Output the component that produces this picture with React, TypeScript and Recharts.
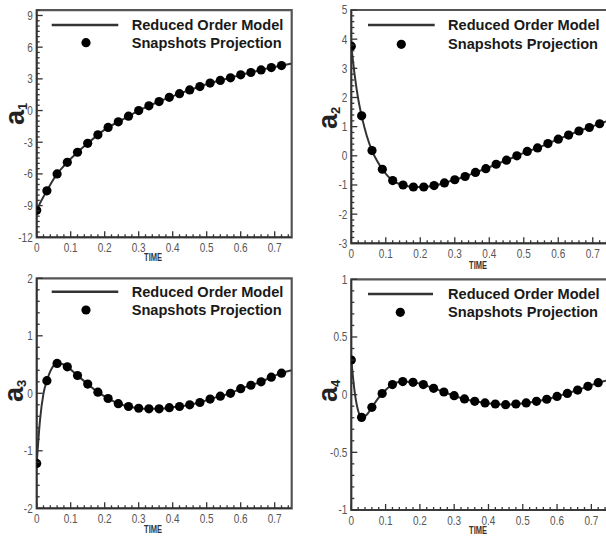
import React from 'react';
import { ComposedChart, Line, Scatter, XAxis, YAxis, ReferenceArea } from 'recharts';

// ---- data ----
const snapTime = [0, 0.03, 0.06, 0.09, 0.12, 0.15, 0.18, 0.21, 0.24, 0.27, 0.3, 0.33, 0.36, 0.39, 0.42, 0.45, 0.48, 0.51, 0.54, 0.57, 0.6, 0.63, 0.66, 0.69, 0.72];
const romTime = [0, 0.01, 0.02, 0.03, 0.045, 0.06, 0.075, 0.09, 0.12, 0.15, 0.18, 0.21, 0.24, 0.27, 0.3, 0.33, 0.36, 0.39, 0.42, 0.45, 0.48, 0.51, 0.54, 0.57, 0.6, 0.63, 0.66, 0.69, 0.72, 0.75];

const a1Snap = [-9.45, -7.6, -6.0, -4.9, -3.95, -3.1, -2.3, -1.6, -1.07, -0.53, 0.0, 0.45, 0.85, 1.25, 1.6, 1.95, 2.27, 2.6, 2.85, 3.1, 3.38, 3.6, 3.85, 4.07, 4.26];
const a2Snap = [3.76, 1.37, 0.18, -0.46, -0.85, -1.0, -1.07, -1.07, -1.02, -0.93, -0.82, -0.71, -0.57, -0.44, -0.29, -0.15, 0.0, 0.15, 0.27, 0.42, 0.57, 0.71, 0.85, 0.97, 1.1];
const a3Snap = [-1.22, 0.22, 0.52, 0.46, 0.31, 0.16, 0.02, -0.09, -0.18, -0.23, -0.26, -0.27, -0.27, -0.25, -0.23, -0.2, -0.16, -0.1, -0.05, 0.0, 0.08, 0.14, 0.2, 0.28, 0.35];
const a4Snap = [0.3, -0.197, -0.11, 0.01, 0.087, 0.113, 0.107, 0.087, 0.055, 0.023, -0.009, -0.037, -0.058, -0.072, -0.081, -0.087, -0.081, -0.072, -0.058, -0.04, -0.015, 0.011, 0.04, 0.072, 0.104];

const a1Rom = [-9.45, -8.75, -8.15, -7.6, -6.75, -6.0, -5.42, -4.9, -3.95, -3.1, -2.3, -1.6, -1.07, -0.53, 0.0, 0.45, 0.85, 1.25, 1.6, 1.95, 2.27, 2.6, 2.85, 3.1, 3.38, 3.6, 3.85, 4.07, 4.26, 4.45];
const a2Rom = [3.76, 2.75, 1.95, 1.37, 0.68, 0.18, -0.18, -0.46, -0.85, -1.0, -1.07, -1.07, -1.02, -0.93, -0.82, -0.71, -0.57, -0.44, -0.29, -0.15, 0.0, 0.15, 0.27, 0.42, 0.57, 0.71, 0.85, 0.97, 1.1, 1.22];
const a3Rom = [-1.22, -0.45, 0.0, 0.22, 0.44, 0.52, 0.51, 0.46, 0.31, 0.16, 0.02, -0.09, -0.18, -0.23, -0.26, -0.27, -0.27, -0.25, -0.23, -0.2, -0.16, -0.1, -0.05, 0.0, 0.08, 0.14, 0.2, 0.28, 0.35, 0.4];
const a4Rom = [0.3, 0.02, -0.14, -0.197, -0.175, -0.11, -0.045, 0.01, 0.087, 0.113, 0.107, 0.087, 0.055, 0.023, -0.009, -0.037, -0.058, -0.072, -0.081, -0.087, -0.081, -0.072, -0.058, -0.04, -0.015, 0.011, 0.04, 0.072, 0.104, 0.125];

const xMajorTicks = [0, 0.1, 0.2, 0.3, 0.4, 0.5, 0.6, 0.7];
const a1Ticks = [-12, -9, -6, -3, 0, 3, 6, 9];
const a2Ticks = [-3, -2, -1, 0, 1, 2, 3, 4, 5];
const a3Ticks = [-2, -1, 0, 1, 2];
const a4Ticks = [-1, -0.5, 0, 0.5, 1];

const legendLabels = ['Reduced Order Model', 'Snapshots Projection'];
const xTitle = 'TIME';

// ---- helpers ----
const X_MAX = 0.75;
const X_MINOR = 0.02;

function withMinor(majors: number[], step: number, lo: number, hi: number) {
  const out: number[] = [];
  const n = Math.round((hi - lo) / step);
  for (let i = 0; i <= n; i++) out.push(Math.round((lo + i * step) * 1e6) / 1e6);
  majors.forEach((m) => { if (!out.some((o) => Math.abs(o - m) < 1e-9)) out.push(m); });
  return out.sort((a, b) => a - b);
}
const isMajor = (majors: number[], v: number) => majors.some((m) => Math.abs(m - v) < 1e-6);

const TICK_FONT = 'Liberation Sans, Arial, Helvetica, sans-serif';

const makeYTick = (majors: number[]) => (props: any) => {
  const { x, y, payload } = props;
  const v = payload.value;
  const maj = isMajor(majors, v);
  return (
    <g>
      <line x1={x} x2={x + (maj ? 6 : 3)} y1={y} y2={y} stroke="#333" strokeWidth={1.3} />
      {maj && (
        <text
          transform={`translate(${x - 4},${y}) scale(0.8,1)`}
          textAnchor="end"
          dominantBaseline="central"
          fontSize={12.5}
          fill="#555"
          fontFamily={TICK_FONT}
        >
          {String(v)}
        </text>
      )}
    </g>
  );
};

const makeXTick = (majors: number[]) => (props: any) => {
  const { x, y, payload } = props;
  const v = payload.value;
  const maj = isMajor(majors, v);
  return (
    <g>
      <line x1={x} x2={x} y1={y} y2={y - (maj ? 6 : 3)} stroke="#333" strokeWidth={1.3} />
      {maj && (
        <text
          transform={`translate(${x},${y + 15}) scale(0.8,1)`}
          textAnchor="middle"
          fontSize={12.5}
          fill="#555"
          fontFamily={TICK_FONT}
        >
          {String(v)}
        </text>
      )}
    </g>
  );
};

type PanelProps = {
  left: number; top: number; width: number; height: number;
  plot: { top: number; right: number; bottom: number; left: number };
  yDomain: [number, number]; yMajor: number[]; yMinorStep: number;
  snap: number[]; rom: number[]; sub: string;
  yTitle: { x: number; y: number };
  timePos: { x: number; y: number };
  legend: { lineX1: number; lineX2: number; textX: number; dotX: number; row1: number; row2: number };
};

function Panel(p: PanelProps) {
  const snapData = snapTime.map((t, i) => ({ t, v: p.snap[i] }));
  const romData = romTime.map((t, i) => ({ t, v: p.rom[i] }));
  const yTicks = withMinor(p.yMajor, p.yMinorStep, p.yDomain[0], p.yDomain[1]);
  const xTicks = withMinor(xMajorTicks, X_MINOR, 0, 0.74);
  const L = p.legend;
  const m = p.plot;
  return (
    <div style={{ position: 'absolute', left: p.left, top: p.top, width: p.width, height: p.height }}>
      <ComposedChart width={p.width} height={p.height} margin={{ top: m.top, right: m.right, left: 0, bottom: 0 }}>
        <XAxis
          dataKey="t" type="number" domain={[0, X_MAX]} allowDataOverflow
          ticks={xTicks} interval={0} height={m.bottom} tickSize={0} tickMargin={0}
          tickLine={false} axisLine={{ stroke: '#333', strokeWidth: 1.5 }}
          tick={makeXTick(xMajorTicks)}
        />
        <YAxis
          type="number" domain={p.yDomain} allowDataOverflow
          ticks={yTicks} interval={0} width={m.left} tickSize={0} tickMargin={0}
          tickLine={false} axisLine={{ stroke: '#333', strokeWidth: 1.5 }}
          tick={makeYTick(p.yMajor)}
        />
        <ReferenceArea
          x1={0} x2={X_MAX} y1={p.yDomain[0]} y2={p.yDomain[1]}
          fill="none" fillOpacity={0} stroke="#555" strokeWidth={2.2} ifOverflow="visible"
        />
        <Line
          data={romData} dataKey="v" type="monotone" stroke="#333" strokeWidth={2}
          dot={false} activeDot={false} isAnimationActive={false}
        />
        <Scatter
          data={snapData} dataKey="v" isAnimationActive={false}
          shape={(s: any) => <circle cx={s.cx} cy={s.cy} r={4.6} fill="#000" />}
        />
      </ComposedChart>
      <svg
        width={p.width} height={p.height}
        style={{ position: 'absolute', left: 0, top: 0, pointerEvents: 'none', overflow: 'visible' }}
      >
        <line x1={L.lineX1} x2={L.lineX2} y1={L.row1} y2={L.row1} stroke="#333" strokeWidth={2.4} />
        <circle cx={L.dotX} cy={L.row2} r={4.6} fill="#000" />
        <text x={L.textX} y={L.row1} dominantBaseline="central" fontSize={14.6} fontWeight="bold" fill="#1a1a1a" fontFamily={TICK_FONT}>
          {legendLabels[0]}
        </text>
        <text x={L.textX} y={L.row2} dominantBaseline="central" fontSize={14.6} fontWeight="bold" fill="#1a1a1a" fontFamily={TICK_FONT}>
          {legendLabels[1]}
        </text>
        <text
          transform={`translate(${p.timePos.x},${p.timePos.y}) scale(0.75,1)`}
          textAnchor="middle" dominantBaseline="central"
          fontSize={10} fontWeight="bold" fill="#333" fontFamily={TICK_FONT}
        >
          {xTitle}
        </text>
        <text
          transform={`translate(${p.yTitle.x},${p.yTitle.y}) rotate(-90)`}
          fontSize={27} fontWeight="bold" fill="#222" fontFamily={TICK_FONT}
        >
          a<tspan fontSize={13} dy={3}>{p.sub}</tspan>
        </text>
      </svg>
    </div>
  );
}

export default function App() {
  return (
    <div style={{ position: 'absolute', left: 0, top: 0, width: 606, height: 537, overflow: 'hidden', background: '#fff' }}>
      <Panel
        left={0} top={0} width={303} height={270}
        plot={{ top: 10.2, right: 11.3, bottom: 32.7, left: 36.7 }}
        yDomain={[-12, 9.5]} yMajor={a1Ticks} yMinorStep={0.5}
        snap={a1Snap} rom={a1Rom} sub="1"
        yTitle={{ x: 24, y: 125 }} timePos={{ x: 153, y: 258 }}
        legend={{ lineX1: 51.7, lineX2: 118.3, textX: 131.7, dotX: 86, row1: 25, row2: 42.7 }}
      />
      <Panel
        left={303} top={0} width={320} height={270}
        plot={{ top: 10, right: 13, bottom: 26.7, left: 48.3 }}
        yDomain={[-3, 5]} yMajor={a2Ticks} yMinorStep={0.2}
        snap={a2Snap} rom={a2Rom} sub="2"
        yTitle={{ x: 33.5, y: 129 }} timePos={{ x: 175, y: 266 }}
        legend={{ lineX1: 65, lineX2: 131.7, textX: 145, dotX: 98.3, row1: 25, row2: 44.3 }}
      />
      <Panel
        left={0} top={270} width={303} height={267}
        plot={{ top: 8.3, right: 11.3, bottom: 28.7, left: 36.7 }}
        yDomain={[-2, 2]} yMajor={a3Ticks} yMinorStep={0.2}
        snap={a3Snap} rom={a3Rom} sub="3"
        yTitle={{ x: 22.7, y: 132 }} timePos={{ x: 153, y: 260 }}
        legend={{ lineX1: 51.7, lineX2: 118.3, textX: 131.7, dotX: 86, row1: 21.7, row2: 40 }}
      />
      <Panel
        left={303} top={270} width={320} height={267}
        plot={{ top: 9.3, right: 14.5, bottom: 27, left: 48.3 }}
        yDomain={[-1, 1]} yMajor={a4Ticks} yMinorStep={0.1}
        snap={a4Snap} rom={a4Rom} sub="4"
        yTitle={{ x: 33.5, y: 132 }} timePos={{ x: 175, y: 261 }}
        legend={{ lineX1: 65, lineX2: 130, textX: 145, dotX: 97.3, row1: 24, row2: 42.3 }}
      />
    </div>
  );
}
